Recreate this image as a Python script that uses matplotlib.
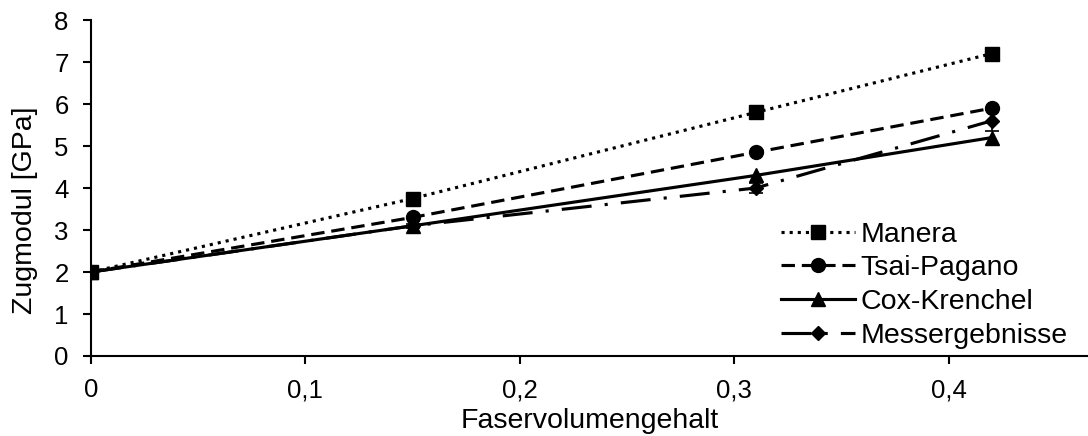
import matplotlib
matplotlib.use("Agg")
import matplotlib.pyplot as plt
from matplotlib.ticker import FuncFormatter
from matplotlib.lines import Line2D

plt.rcParams['font.family'] = ['Liberation Sans', 'DejaVu Sans']

x = [0.0, 0.15, 0.31, 0.42]
manera = [2.0, 3.75, 5.8, 7.2]
tsai_pagano = [2.0, 3.3, 4.85, 5.9]
cox_krenchel = [2.0, 3.1, 4.3, 5.2]
messergebnisse = [2.0, 3.1, 4.0, 5.6]
messer_err = [0.0, 0.05, 0.12, 0.25]

fs_tick = 18.5
fs_lab = 20.5
fig = plt.figure(figsize=(10.88, 4.36), dpi=100)
ax = fig.add_axes([0.0836, 0.1835, 0.9164, 0.7705])

lw = 2.25
ls_manera = (0, (1, 1.6))
ls_tsai = (0, (4.3, 2.2))
ls_messer = (0, (9.6, 4.2, 1, 4.2))
ax.plot(x, manera, color='black', lw=lw, linestyle=ls_manera, marker='s', ms=10, label='Manera')
ax.plot(x, tsai_pagano, color='black', lw=lw, linestyle=ls_tsai, marker='o', ms=10, label='Tsai-Pagano')
ax.plot(x, cox_krenchel, color='black', lw=lw, linestyle='-', marker='^', ms=10, label='Cox-Krenchel')
ax.errorbar(x, messergebnisse, yerr=messer_err, color='black', lw=lw, linestyle=ls_messer,
            marker='D', ms=7, capsize=5, elinewidth=1.2, capthick=1.2)

ax.set_xlim(0, 0.465)
ax.set_ylim(0, 8)
ax.set_xticks([0, 0.1, 0.2, 0.3, 0.4])
ax.set_yticks(range(0, 9))
ax.xaxis.set_major_formatter(FuncFormatter(lambda v, p: ('%g' % round(v, 2)).replace('.', ',')))

for s in ['top', 'right']:
    ax.spines[s].set_visible(False)
for s in ['left', 'bottom']:
    ax.spines[s].set_linewidth(1.5)
ax.tick_params(direction='out', length=6, width=1.5, labelsize=fs_tick, pad=10)

ax.set_xlabel('Faservolumengehalt', fontsize=fs_lab, labelpad=4)
ax.set_ylabel('Zugmodul [GPa]', fontsize=fs_lab)
ax.yaxis.set_label_coords(-0.053, 0.4345)

handles, labels = ax.get_legend_handles_labels()
handles.append(Line2D([], [], color='black', lw=lw, linestyle=ls_messer, marker='D', ms=7))
labels.append('Messergebnisse')
leg = ax.legend(handles, labels, loc='lower right', bbox_to_anchor=(0.985, 0.005), frameon=False, fontsize=fs_lab,
                handlelength=2.6, handletextpad=0.2, labelspacing=0.27, borderaxespad=0.0, borderpad=0.2)

fig.savefig('out.png', dpi=100)
